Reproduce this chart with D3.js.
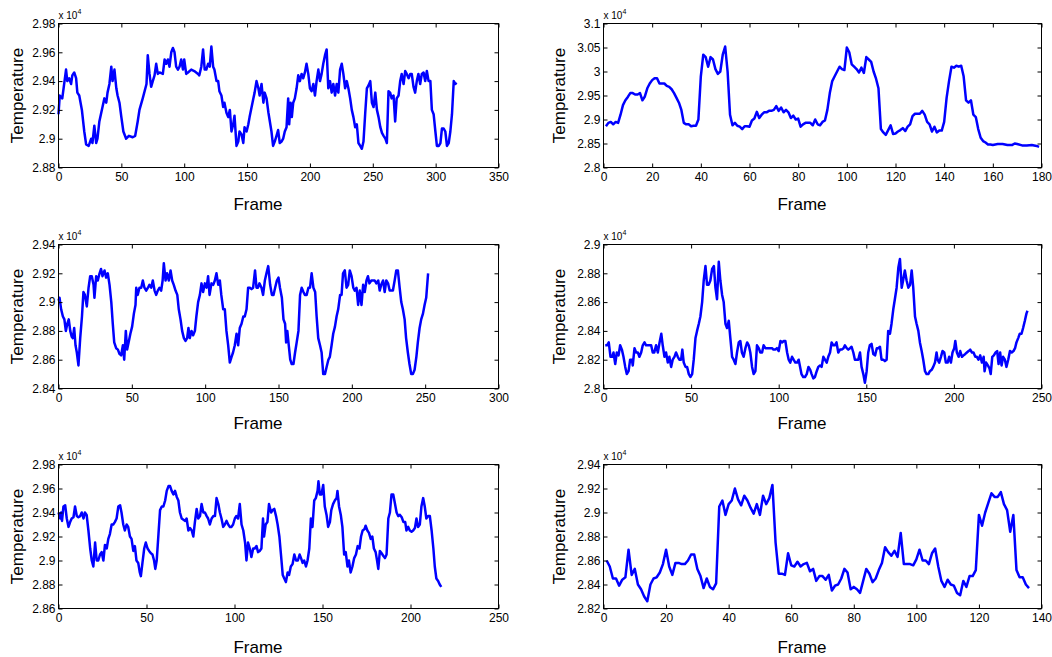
<!DOCTYPE html>
<html>
<head>
<meta charset="utf-8">
<script src="https://cdn.jsdelivr.net/npm/d3@7"></script>
<style>
  body { margin: 0; background: #fff; }
  text { font-family: "Liberation Sans", Arial, Helvetica, sans-serif; fill: #000; }
</style>
</head>
<body>
<script>
// Temperature traces (values in units of 10^4) as [frame, value]
var series1 = [[0,2.917],[1,2.93],[3,2.928],[6,2.948],[7,2.94],[8.5,2.942],[10,2.938],[11,2.944],[12.5,2.946],[14,2.942],[15,2.932],[16.5,2.93],[18.6,2.92],[20.5,2.905],[22,2.896],[24,2.895],[26,2.9],[27,2.897],[28.5,2.909],[30,2.897],[31,2.9],[32.5,2.912],[35,2.922],[36.5,2.928],[38,2.925],[39,2.932],[40.5,2.938],[42,2.95],[43,2.94],[44.5,2.948],[46,2.935],[47,2.93],[48.5,2.925],[50,2.915],[51.6,2.905],[53.8,2.9],[56,2.902],[59,2.901],[61,2.902],[63,2.912],[64.4,2.92],[67,2.928],[70,2.938],[71,2.958],[72.4,2.945],[73.7,2.936],[75,2.94],[76.4,2.944],[77.7,2.952],[79,2.945],[80.4,2.946],[83,2.945],[84.4,2.955],[85.7,2.952],[87,2.955],[88.3,2.95],[89.7,2.96],[91,2.963],[92.3,2.96],[93.6,2.95],[95,2.948],[96.3,2.95],[97.6,2.955],[99,2.948],[100,2.955],[101.6,2.945],[103,2.946],[105.6,2.948],[108,2.947],[111,2.945],[112,2.944],[113.6,2.95],[115,2.962],[116.3,2.948],[117.6,2.948],[119,2.952],[120.3,2.95],[121.6,2.964],[123,2.95],[124,2.948],[125.7,2.94],[127,2.94],[128,2.933],[129.6,2.93],[131,2.922],[132,2.925],[133.6,2.918],[135,2.915],[136.3,2.92],[137.6,2.905],[139,2.91],[140,2.916],[141.6,2.895],[143,2.898],[144,2.905],[145.6,2.903],[147,2.897],[148,2.908],[149.6,2.905],[151,2.91],[152,2.915],[155,2.928],[156,2.932],[157.5,2.94],[159,2.935],[160,2.93],[161.5,2.938],[163,2.925],[164,2.932],[165.5,2.928],[167,2.918],[169.4,2.905],[170.7,2.895],[172,2.898],[173.4,2.902],[174.7,2.906],[176,2.897],[177.4,2.898],[178.7,2.9],[180,2.905],[181.4,2.908],[182.7,2.928],[183.5,2.91],[184.6,2.925],[185.6,2.915],[186.7,2.925],[188,2.928],[189.4,2.935],[190.7,2.944],[192,2.94],[193.4,2.945],[194.7,2.942],[196,2.946],[197.3,2.952],[198.7,2.945],[200,2.935],[201.3,2.933],[202.7,2.938],[204,2.93],[205.3,2.94],[206.7,2.948],[208,2.94],[209.3,2.945],[210.6,2.952],[212,2.958],[213.3,2.962],[214.6,2.935],[216,2.94],[217.3,2.932],[218.6,2.938],[220,2.93],[221.3,2.938],[222.6,2.932],[224,2.948],[225.3,2.952],[226.6,2.945],[228,2.935],[229.3,2.94],[230.6,2.935],[232,2.928],[233.3,2.92],[234.6,2.915],[236,2.908],[237.3,2.91],[238.6,2.897],[240,2.895],[241.3,2.893],[242.6,2.898],[244,2.918],[245.3,2.935],[246.6,2.937],[248,2.94],[249.3,2.925],[250.6,2.922],[252,2.932],[253.3,2.92],[254.6,2.915],[256,2.908],[257.3,2.904],[258.6,2.902],[260,2.9],[261.2,2.897],[262.5,2.933],[263.8,2.932],[265,2.928],[266.5,2.93],[267.8,2.912],[269,2.928],[270.5,2.93],[271.8,2.94],[273,2.945],[274.5,2.938],[275.8,2.947],[277,2.945],[278.5,2.942],[279.8,2.945],[281,2.945],[282.4,2.936],[283.7,2.932],[285,2.94],[286.3,2.945],[287.7,2.938],[289,2.945],[290.4,2.946],[291.7,2.94],[293,2.947],[294.4,2.94],[295.8,2.94],[297,2.92],[298.4,2.917],[299.8,2.905],[301,2.895],[302.5,2.895],[303.8,2.897],[305,2.907],[306.4,2.907],[307.7,2.905],[309,2.895],[310.4,2.897],[311.7,2.905],[313,2.917],[314.4,2.94],[315.7,2.938],[316.5,2.939]];

var series2 = [[1,2.886],[2,2.893],[3,2.895],[4,2.89],[5,2.895],[6,2.893],[7,2.91],[8,2.93],[9,2.94],[10,2.947],[11,2.955],[12,2.955],[13,2.952],[14,2.952],[15,2.955],[16,2.94],[17,2.948],[18,2.965],[19,2.975],[20,2.982],[21,2.986],[22,2.986],[23,2.975],[24,2.975],[25,2.975],[26,2.97],[27,2.968],[28,2.963],[29,2.955],[30,2.945],[31,2.935],[32,2.92],[33,2.893],[34,2.89],[35,2.89],[36,2.886],[37,2.887],[38,2.887],[39,2.9],[40,2.99],[41,3.035],[42,3.03],[43,3.01],[44,3.03],[45,3.025],[46,3.005],[47,2.995],[48,3.0],[49,3.035],[50,3.052],[51,3.0],[52,2.91],[53,2.888],[54,2.893],[55,2.887],[56,2.885],[57,2.88],[58,2.886],[59,2.886],[60,2.885],[61,2.898],[62,2.902],[63,2.916],[64,2.903],[65,2.91],[66,2.915],[67,2.915],[68,2.918],[69,2.918],[70,2.92],[71,2.928],[72,2.918],[73,2.925],[74,2.915],[75,2.92],[76,2.915],[77,2.903],[78,2.908],[79,2.9],[80,2.902],[81,2.885],[82,2.89],[83,2.893],[84,2.893],[85,2.893],[86,2.888],[87,2.9],[88,2.89],[89,2.888],[90,2.895],[91,2.898],[92,2.92],[93,2.955],[94,2.98],[95,2.99],[96,3.0],[97,3.01],[98,3.005],[99,3.003],[100,3.05],[101,3.04],[102,3.015],[103,3.01],[104,3.005],[105,2.998],[106,3.008],[107,2.997],[108,3.03],[109,3.025],[110,3.02],[111,3.0],[112,2.985],[113,2.965],[114,2.88],[115,2.873],[116,2.868],[117,2.878],[118,2.888],[119,2.87],[120,2.871],[121,2.875],[122,2.878],[123,2.882],[124,2.876],[125,2.885],[126,2.89],[127,2.907],[128,2.912],[129,2.912],[130,2.912],[131,2.918],[132,2.91],[133,2.895],[134,2.89],[135,2.875],[136,2.885],[137,2.873],[138,2.877],[139,2.877],[140,2.895],[141,2.945],[142,2.98],[143,3.01],[144,3.008],[145,3.012],[146,3.01],[147,3.012],[148,2.99],[149,2.94],[150,2.935],[151,2.94],[152,2.91],[153,2.905],[154,2.88],[155,2.862],[156,2.855],[157,2.852],[158,2.848],[159,2.848],[160,2.847],[162,2.849],[164,2.849],[166,2.847],[168,2.847],[169,2.85],[170,2.849],[172,2.846],[174,2.846],[176,2.847],[178,2.845],[179,2.843]];

var series3 = [[0,2.901],[0.7,2.903],[1.8,2.895],[3,2.89],[4,2.888],[5,2.88],[6,2.885],[7,2.888],[8,2.88],[9,2.876],[9.8,2.875],[10.7,2.882],[11.6,2.87],[12.5,2.865],[13.6,2.856],[14.8,2.875],[16,2.89],[17,2.907],[18,2.905],[19.3,2.897],[20.5,2.91],[21.6,2.918],[22.7,2.918],[23.9,2.912],[24.5,2.903],[25.7,2.918],[26.8,2.915],[28,2.92],[29,2.923],[30,2.918],[31.4,2.922],[32.5,2.917],[33.6,2.92],[34.8,2.912],[36,2.9],[37,2.885],[38,2.872],[39.3,2.868],[40.5,2.867],[41.6,2.864],[42.7,2.863],[43.9,2.87],[44.8,2.86],[45.9,2.88],[46.8,2.867],[48,2.873],[49,2.878],[50.2,2.883],[51.4,2.892],[52.5,2.898],[53,2.91],[54,2.905],[55.2,2.91],[56.4,2.91],[57.5,2.915],[58.6,2.91],[59.8,2.908],[61,2.91],[62,2.912],[63.2,2.91],[64.3,2.915],[65.5,2.908],[66.6,2.905],[67.7,2.908],[68.9,2.91],[70,2.908],[71,2.915],[71.8,2.927],[73,2.915],[74,2.92],[75.2,2.915],[76.4,2.922],[77.5,2.915],[78.6,2.912],[79.8,2.908],[81,2.905],[82,2.895],[83.2,2.888],[84.3,2.88],[85.5,2.875],[86.6,2.873],[87.7,2.875],[88.6,2.882],[89.5,2.875],[90.7,2.88],[91.8,2.877],[93,2.88],[94,2.89],[95.2,2.9],[96.4,2.905],[97.5,2.913],[98.6,2.907],[99.8,2.913],[101,2.91],[102,2.918],[103,2.905],[104.3,2.913],[105.5,2.912],[106.6,2.915],[107.7,2.92],[108.9,2.912],[110,2.915],[111,2.905],[112.3,2.895],[113.4,2.895],[114.5,2.88],[115.7,2.87],[116.8,2.858],[118,2.862],[119,2.865],[120.2,2.87],[121.4,2.878],[122.5,2.87],[123.6,2.882],[124.8,2.885],[126,2.89],[127,2.89],[128.2,2.895],[129.3,2.91],[130.5,2.91],[131.6,2.909],[132.7,2.91],[134,2.922],[135,2.91],[136,2.91],[137,2.913],[138.4,2.91],[139.5,2.905],[140.7,2.915],[141.8,2.92],[143,2.925],[144.3,2.912],[145.5,2.905],[146.6,2.905],[147.7,2.91],[148.9,2.915],[150,2.917],[151,2.91],[152.3,2.903],[153.4,2.888],[154.5,2.885],[155.2,2.872],[156,2.88],[157,2.87],[158,2.86],[159,2.857],[160.2,2.857],[161.3,2.865],[162.4,2.872],[163.6,2.88],[164.7,2.905],[165.8,2.91],[167,2.907],[168,2.905],[169.2,2.905],[170.4,2.91],[171.5,2.91],[172.6,2.92],[173.8,2.91],[175,2.907],[176,2.89],[177.1,2.875],[178.3,2.87],[179.4,2.865],[180.5,2.85],[181.7,2.85],[182.8,2.855],[184,2.86],[185,2.862],[186.2,2.87],[187.3,2.878],[188.5,2.883],[189.6,2.89],[190.7,2.895],[192,2.905],[193,2.905],[194,2.92],[195.2,2.922],[196.4,2.91],[197.5,2.912],[198.6,2.922],[199.8,2.918],[201,2.91],[202,2.908],[203.2,2.91],[204.3,2.898],[205.4,2.908],[206.6,2.898],[207.7,2.912],[208.8,2.907],[210,2.915],[211,2.918],[212,2.913],[213.3,2.915],[214.5,2.915],[215.6,2.915],[216.7,2.913],[218,2.915],[219,2.908],[220,2.912],[221.3,2.915],[222.4,2.907],[223.5,2.915],[224.7,2.913],[225.8,2.908],[227,2.908],[228,2.908],[229.2,2.915],[230.3,2.922],[231.4,2.922],[232.6,2.91],[233.7,2.9],[234.8,2.895],[236,2.888],[237,2.875],[238.2,2.865],[239.3,2.857],[240.5,2.85],[241.6,2.85],[242.8,2.853],[244,2.862],[245,2.872],[246.2,2.882],[247.3,2.888],[248.5,2.892],[249.6,2.898],[250.7,2.903],[252,2.92]];

var series4 = [[1,2.83],[2,2.83],[3,2.832],[4,2.822],[5,2.822],[5.7,2.825],[6.7,2.817],[7.6,2.825],[8.6,2.823],[9.5,2.83],[10.5,2.827],[11.4,2.822],[12.4,2.815],[13.3,2.81],[14.3,2.812],[15.2,2.82],[16.2,2.82],[16.7,2.816],[17.7,2.828],[18.6,2.825],[19.6,2.825],[20.5,2.822],[21.5,2.825],[22.4,2.83],[23.4,2.832],[24.3,2.83],[25.3,2.83],[26.2,2.83],[27.2,2.83],[28.1,2.825],[29,2.825],[30,2.83],[31,2.825],[32,2.832],[33,2.838],[33.8,2.83],[34.8,2.822],[35.7,2.825],[36.7,2.818],[37.6,2.822],[38.6,2.815],[39.5,2.82],[40.5,2.822],[41.4,2.825],[42.4,2.822],[43.3,2.82],[44.3,2.82],[45,2.827],[45.8,2.818],[46.8,2.815],[47.7,2.815],[48.7,2.81],[49.6,2.808],[50.6,2.81],[51.5,2.82],[52.5,2.835],[53.4,2.84],[54.4,2.845],[55.3,2.85],[56.3,2.86],[57.2,2.875],[58.2,2.885],[59.1,2.872],[60,2.872],[61,2.875],[62,2.883],[63,2.885],[63.9,2.87],[64.8,2.862],[65.8,2.888],[66.7,2.875],[67.7,2.865],[68.6,2.86],[69.6,2.845],[70.5,2.842],[71.5,2.847],[72.4,2.835],[73.4,2.822],[74.3,2.82],[75.3,2.817],[76.2,2.825],[77.2,2.832],[78.1,2.833],[79,2.825],[80,2.822],[81,2.828],[82,2.832],[82.9,2.83],[83.8,2.825],[84.8,2.815],[85.7,2.81],[86.7,2.812],[87.6,2.83],[88.6,2.828],[89.5,2.825],[90.5,2.825],[91.4,2.83],[92.4,2.828],[93.3,2.828],[94.3,2.828],[95.2,2.828],[96.2,2.828],[97,2.827],[98,2.827],[99,2.828],[100,2.826],[101,2.833],[101.9,2.832],[102.9,2.833],[103.8,2.833],[104.8,2.825],[105.7,2.82],[106.6,2.818],[107.6,2.822],[108.5,2.82],[109.5,2.818],[110.5,2.818],[111.4,2.82],[113,2.81],[114,2.808],[115,2.808],[116,2.81],[117,2.815],[118,2.813],[118.8,2.81],[119.8,2.807],[120.7,2.808],[121.7,2.812],[122.6,2.815],[123.6,2.816],[124.5,2.815],[125.5,2.822],[126.4,2.82],[127.4,2.818],[128.3,2.822],[129.3,2.825],[130.2,2.832],[131.2,2.83],[132,2.83],[133,2.832],[134,2.825],[135,2.827],[136,2.827],[137,2.828],[137.8,2.83],[138.8,2.828],[139.7,2.827],[140.7,2.828],[141.6,2.829],[142.6,2.825],[143.5,2.82],[144.5,2.82],[145.4,2.82],[146.4,2.825],[147.3,2.815],[148.3,2.81],[149.2,2.804],[150.2,2.812],[151.1,2.825],[152,2.83],[153,2.831],[154,2.824],[155,2.823],[156,2.828],[156.8,2.828],[157.8,2.829],[158.7,2.82],[159.7,2.82],[160.6,2.819],[161.6,2.82],[162.5,2.84],[163.5,2.838],[164.4,2.845],[165.4,2.855],[166.3,2.862],[167.3,2.87],[168.3,2.884],[169.2,2.89],[170.2,2.87],[171,2.875],[172,2.882],[173,2.875],[174,2.87],[175,2.872],[175.9,2.882],[176.8,2.87],[177.8,2.85],[178.7,2.845],[179.7,2.84],[180.6,2.832],[181.6,2.826],[182.5,2.82],[183.5,2.812],[184.4,2.81],[185.4,2.81],[186.3,2.812],[187.3,2.813],[188.2,2.815],[189.2,2.818],[190.1,2.825],[190.7,2.82],[191.6,2.818],[192.6,2.822],[193.5,2.826],[194.5,2.825],[195.4,2.818],[196.4,2.818],[197.3,2.822],[198.3,2.818],[199.2,2.825],[200.2,2.828],[200.8,2.833],[201.7,2.825],[202.7,2.822],[203.6,2.826],[204.6,2.822],[205.5,2.823],[206.5,2.824],[207.4,2.825],[208.4,2.826],[209.3,2.827],[210.3,2.825],[211.2,2.825],[212.2,2.822],[213.1,2.822],[214,2.82],[215,2.823],[216,2.818],[217,2.822],[217.5,2.812],[218.4,2.818],[219.4,2.816],[220.3,2.814],[221,2.81],[221.9,2.822],[222.8,2.823],[223.8,2.825],[224.7,2.826],[225.5,2.817],[226.4,2.825],[227.2,2.816],[228.1,2.822],[229.1,2.82],[230,2.815],[231,2.82],[232,2.826],[233,2.825],[234,2.826],[234.9,2.828],[235.7,2.832],[236.7,2.835],[237.6,2.838],[238.6,2.838],[239.5,2.842],[240.5,2.847],[241.4,2.852],[242,2.854]];

var series5 = [[0,2.94],[1,2.935],[1.5,2.94],[2,2.933],[2.8,2.945],[3.8,2.946],[4.7,2.935],[5.7,2.928],[6.6,2.932],[7.5,2.935],[8.5,2.936],[9.4,2.945],[10.4,2.937],[11.3,2.936],[12.3,2.937],[13.2,2.94],[14.2,2.935],[15,2.94],[16,2.938],[17,2.925],[18,2.91],[18.9,2.9],[19.8,2.895],[20.8,2.915],[21.7,2.9],[22.6,2.9],[23.6,2.905],[24.5,2.907],[25.5,2.9],[26.4,2.913],[27.4,2.91],[28.3,2.918],[29.2,2.922],[30.2,2.93],[31.1,2.93],[32,2.932],[33,2.935],[34,2.945],[35,2.946],[35.8,2.94],[36.8,2.93],[37.7,2.925],[38.7,2.93],[39.6,2.928],[40.6,2.92],[41.5,2.918],[42.5,2.908],[43.4,2.912],[44.3,2.9],[45.3,2.898],[46.2,2.89],[46.8,2.887],[47.7,2.898],[48.7,2.91],[49.6,2.915],[50.6,2.91],[51.5,2.908],[52.5,2.906],[53.4,2.905],[54.3,2.9],[55,2.893],[55.8,2.9],[56.8,2.922],[57.7,2.942],[58.7,2.945],[59.6,2.945],[60.6,2.95],[61.5,2.958],[62.5,2.962],[63.4,2.962],[64.3,2.958],[65.3,2.955],[66.2,2.958],[67.2,2.953],[68.1,2.95],[69,2.94],[70,2.935],[71,2.934],[72,2.933],[72.8,2.935],[73.8,2.925],[74.7,2.927],[75.7,2.925],[76.6,2.92],[77.5,2.932],[78.5,2.943],[79.4,2.935],[80.4,2.937],[81.3,2.947],[82.3,2.94],[83.2,2.94],[84.2,2.937],[85,2.935],[86,2.93],[87,2.935],[88,2.937],[88.9,2.937],[89.8,2.952],[90.8,2.947],[91.7,2.94],[92.6,2.935],[93.6,2.928],[94.5,2.93],[95.5,2.933],[96.4,2.93],[97.4,2.928],[98.3,2.928],[99.2,2.93],[100.2,2.935],[101,2.937],[102,2.935],[103,2.947],[104,2.93],[105,2.925],[106,2.915],[106.8,2.9],[107.7,2.915],[108.7,2.91],[109.6,2.903],[110.6,2.91],[111.5,2.91],[112.5,2.912],[113.4,2.907],[114.3,2.908],[115.3,2.91],[116.2,2.935],[116.8,2.92],[117.7,2.93],[118.7,2.932],[119.6,2.947],[120.8,2.94],[121.7,2.942],[122.6,2.943],[123.6,2.937],[124.5,2.93],[125.5,2.92],[126.4,2.905],[127.4,2.888],[128.3,2.885],[129.2,2.882],[130.2,2.89],[131,2.888],[132,2.895],[133,2.897],[134,2.905],[135,2.9],[136,2.9],[137,2.905],[137.8,2.902],[138.7,2.898],[139.6,2.9],[140.6,2.895],[141.5,2.9],[142.5,2.91],[143.4,2.935],[144.3,2.928],[145.3,2.95],[146.2,2.952],[147.2,2.958],[147.7,2.966],[148.5,2.955],[149.4,2.955],[150.4,2.963],[151.3,2.945],[152.3,2.938],[153.2,2.928],[154.2,2.932],[155,2.942],[156,2.947],[157,2.95],[158,2.952],[158.5,2.958],[159.4,2.945],[160.4,2.938],[161.3,2.928],[162.3,2.905],[163.2,2.907],[164.2,2.895],[165,2.9],[166,2.89],[167,2.895],[168,2.902],[169,2.905],[170,2.912],[171,2.91],[171.9,2.92],[172.8,2.925],[173.8,2.926],[174.5,2.929],[175.5,2.925],[176.4,2.923],[177.4,2.918],[178.3,2.92],[179.2,2.91],[180.2,2.907],[181,2.9],[181.7,2.893],[182.6,2.908],[183.6,2.906],[184.5,2.904],[185.5,2.902],[186.4,2.905],[187.4,2.935],[188.3,2.94],[189.2,2.955],[190.2,2.955],[191.1,2.948],[192.1,2.94],[193,2.937],[194,2.938],[195,2.936],[196,2.932],[197,2.932],[197.7,2.925],[198.7,2.928],[199.6,2.925],[200.6,2.924],[201.5,2.925],[202.5,2.927],[203.4,2.935],[204.3,2.928],[205.3,2.93],[206.2,2.945],[207.2,2.952],[208.1,2.945],[209,2.935],[210,2.937],[211,2.937],[212,2.925],[213,2.91],[213.8,2.895],[214.7,2.885],[215.7,2.883],[216.6,2.88],[217.5,2.878]];

// panel 6 has one reading per frame, starting at frame 1
var temps6 = [2.86,2.855,2.845,2.845,2.839,2.844,2.846,2.869,2.848,2.853,
  2.84,2.836,2.83,2.826,2.84,2.845,2.846,2.85,2.857,2.869,
  2.855,2.848,2.858,2.858,2.857,2.857,2.86,2.865,2.865,2.853,
  2.847,2.837,2.845,2.838,2.836,2.841,2.905,2.91,2.898,2.907,
  2.91,2.92,2.911,2.906,2.914,2.91,2.904,2.899,2.907,2.898,
  2.914,2.907,2.912,2.923,2.875,2.849,2.849,2.848,2.866,2.856,
  2.855,2.859,2.855,2.857,2.858,2.851,2.853,2.843,2.847,2.847,
  2.844,2.848,2.835,2.839,2.84,2.845,2.853,2.85,2.836,2.838,
  2.836,2.833,2.843,2.853,2.849,2.842,2.845,2.852,2.858,2.871,
  2.867,2.864,2.868,2.863,2.883,2.857,2.857,2.857,2.856,2.861,
  2.869,2.86,2.86,2.857,2.866,2.87,2.855,2.843,2.838,2.844,
  2.84,2.839,2.833,2.831,2.843,2.838,2.847,2.847,2.852,2.898,
  2.889,2.9,2.908,2.916,2.913,2.913,2.917,2.907,2.902,2.884,
  2.898,2.852,2.846,2.846,2.84,2.837];
var series6 = temps6.map(function(v, i) { return [i + 1, v]; });

// axis ticks per panel
var xTicks1 = [0, 50, 100, 150, 200, 250, 300, 350];
var yTicks1 = [2.88, 2.9, 2.92, 2.94, 2.96, 2.98];
var xTicks2 = [0, 20, 40, 60, 80, 100, 120, 140, 160, 180];
var yTicks2 = [2.8, 2.85, 2.9, 2.95, 3, 3.05, 3.1];
var xTicks3 = [0, 50, 100, 150, 200, 250, 300];
var yTicks3 = [2.84, 2.86, 2.88, 2.9, 2.92, 2.94];
var xTicks4 = [0, 50, 100, 150, 200, 250];
var yTicks4 = [2.8, 2.82, 2.84, 2.86, 2.88, 2.9];
var xTicks5 = [0, 50, 100, 150, 200, 250];
var yTicks5 = [2.86, 2.88, 2.9, 2.92, 2.94, 2.96, 2.98];
var xTicks6 = [0, 20, 40, 60, 80, 100, 120, 140];
var yTicks6 = [2.82, 2.84, 2.86, 2.88, 2.9, 2.92, 2.94];

var panels = [
  { data: series1, xTicks: xTicks1, yTicks: yTicks1 },
  { data: series2, xTicks: xTicks2, yTicks: yTicks2 },
  { data: series3, xTicks: xTicks3, yTicks: yTicks3 },
  { data: series4, xTicks: xTicks4, yTicks: yTicks4 },
  { data: series5, xTicks: xTicks5, yTicks: yTicks5 },
  { data: series6, xTicks: xTicks6, yTicks: yTicks6 }
];

// layout
var svgWidth = 1052;
var svgHeight = 657;
var colLeft = [58.5, 603.5];
var colWidth = [440, 438];
var rowTop = [23.5, 244.5, 464.5];
var plotHeight = 144;
var ylabelOffset = [-35.5, -39];
var xlabelDrop = [42, 40, 44];

var svg = d3.select("body")
  .append("svg")
  .attr("width", svgWidth)
  .attr("height", svgHeight);

var yFormat = function(d) { return String(+d.toFixed(2)); };

function styleAxis(sel) {
  sel.select(".domain").remove();
  sel.attr("font-family", null).attr("font-size", 12);
}

panels.forEach(function(p, i) {
  var col = i % 2;
  var row = Math.floor(i / 2);
  var w = colWidth[col];
  var h = plotHeight;

  var g = svg.append("g")
    .attr("transform", `translate(${colLeft[col]}, ${rowTop[row]})`);

  var x = d3.scaleLinear()
    .domain(d3.extent(p.xTicks))
    .range([0, w]);
  var y = d3.scaleLinear()
    .domain(d3.extent(p.yTicks))
    .range([h, 0]);

  // the trace
  var line = d3.line()
    .x(d => x(d[0]))
    .y(d => y(d[1]));

  g.append("path")
    .datum(p.data)
    .attr("fill", "none")
    .attr("stroke", "#0000ff")
    .attr("stroke-width", 2.5)
    .attr("stroke-linejoin", "round")
    .attr("d", line);

  // inward ticks on all four sides, labels on bottom/left
  g.append("g")
    .attr("transform", `translate(0, ${h})`)
    .call(d3.axisBottom(x).tickValues(p.xTicks).tickSizeInner(-4).tickSizeOuter(0).tickPadding(5))
    .call(styleAxis);

  g.append("g")
    .call(d3.axisTop(x).tickValues(p.xTicks).tickSizeInner(-4).tickSizeOuter(0).tickFormat(""))
    .call(styleAxis);

  g.append("g")
    .call(d3.axisLeft(y).tickValues(p.yTicks).tickSizeInner(-4).tickSizeOuter(0).tickPadding(3).tickFormat(yFormat))
    .call(styleAxis);

  g.append("g")
    .attr("transform", `translate(${w}, 0)`)
    .call(d3.axisRight(y).tickValues(p.yTicks).tickSizeInner(-4).tickSizeOuter(0).tickFormat(""))
    .call(styleAxis);

  g.append("rect")
    .attr("width", w)
    .attr("height", h)
    .attr("fill", "none")
    .attr("stroke", "#000")
    .attr("stroke-width", 1);

  // exponent note
  var ex = g.append("text")
    .attr("x", 0)
    .attr("y", -5)
    .attr("font-size", 10);
  ex.append("tspan").text("x 10");
  ex.append("tspan").attr("dy", -5).attr("font-size", 7).text("4");

  // axis labels
  g.append("text")
    .attr("transform", `translate(${ylabelOffset[col]}, ${h / 2}) rotate(-90)`)
    .attr("text-anchor", "middle")
    .attr("font-size", 17)
    .text("Temperature");

  g.append("text")
    .attr("x", w / 2 - 20.5)
    .attr("y", h + xlabelDrop[row])
    .attr("text-anchor", "middle")
    .attr("font-size", 17)
    .text("Frame");
});
</script>
</body>
</html>
